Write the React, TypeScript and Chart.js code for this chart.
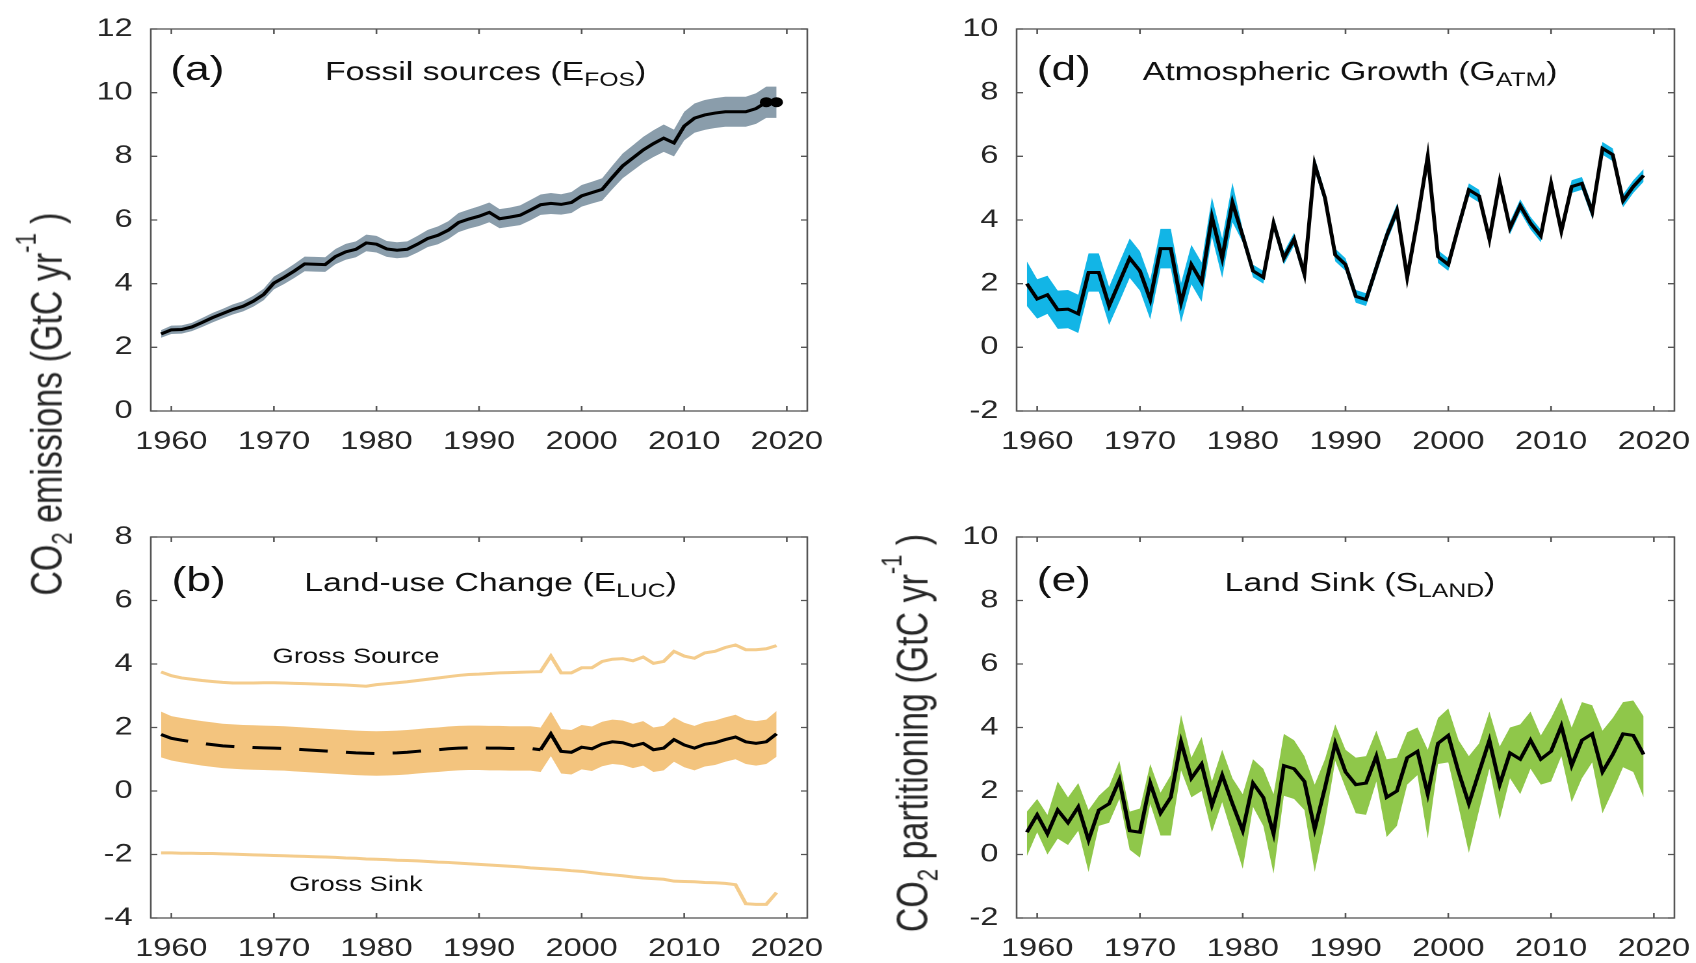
import React, { useEffect, useRef } from "react";
import { Chart, registerables } from "chart.js";

Chart.register(...registerables);

// ---------------- data ----------------
const YEARS = [
  1959, 1960, 1961, 1962, 1963, 1964, 1965, 1966, 1967, 1968,
  1969, 1970, 1971, 1972, 1973, 1974, 1975, 1976, 1977, 1978,
  1979, 1980, 1981, 1982, 1983, 1984, 1985, 1986, 1987, 1988,
  1989, 1990, 1991, 1992, 1993, 1994, 1995, 1996, 1997, 1998,
  1999, 2000, 2001, 2002, 2003, 2004, 2005, 2006, 2007, 2008,
  2009, 2010, 2011, 2012, 2013, 2014, 2015, 2016, 2017, 2018,
  2019,
];

const X_TICKS = [1960, 1970, 1980, 1990, 2000, 2010, 2020];
const Y_TICKS_A = [0, 2, 4, 6, 8, 10, 12];
const Y_TICKS_B = [-4, -2, 0, 2, 4, 6, 8];
const Y_TICKS_DE = [-2, 0, 2, 4, 6, 8, 10];

// (a) fossil emissions
const FOS = [
  2.42, 2.55, 2.56, 2.64, 2.78, 2.93, 3.06, 3.19, 3.29, 3.45,
  3.66, 4.02, 4.2, 4.4, 4.62, 4.61, 4.6, 4.85, 5.0, 5.08,
  5.28, 5.24, 5.09, 5.05, 5.08, 5.24, 5.42, 5.52, 5.68, 5.92,
  6.03, 6.12, 6.24, 6.04, 6.09, 6.15, 6.31, 6.48, 6.52, 6.49,
  6.55, 6.76, 6.86, 6.96, 7.34, 7.7, 7.95, 8.2, 8.4, 8.57,
  8.42, 8.95, 9.2, 9.3, 9.36, 9.4, 9.4, 9.4, 9.5, 9.7,
  9.7,
];
const FOS_UNC = [
  0.12, 0.13, 0.13, 0.13, 0.14, 0.15, 0.15, 0.16, 0.16, 0.17,
  0.18, 0.2, 0.21, 0.22, 0.23, 0.23, 0.23, 0.24, 0.25, 0.25,
  0.26, 0.26, 0.25, 0.25, 0.25, 0.26, 0.27, 0.28, 0.28, 0.3,
  0.3, 0.31, 0.31, 0.3, 0.3, 0.31, 0.32, 0.32, 0.33, 0.32,
  0.33, 0.34, 0.34, 0.35, 0.37, 0.39, 0.4, 0.41, 0.42, 0.43,
  0.42, 0.45, 0.46, 0.47, 0.47, 0.47, 0.47, 0.47, 0.48, 0.49,
  0.49,
];
const FOS_DOT_YEARS = [2018, 2019];
const FOS_DOT_VALUES = [9.7, 9.7];

// (b) land-use change
const LUC = [
  1.78, 1.66, 1.6, 1.55, 1.5, 1.46, 1.42, 1.4, 1.38, 1.37,
  1.36, 1.35, 1.34, 1.32, 1.3, 1.28, 1.26, 1.24, 1.22, 1.2,
  1.19, 1.18, 1.19, 1.2, 1.22, 1.25, 1.28, 1.3, 1.33, 1.35,
  1.36, 1.36, 1.35, 1.35, 1.34, 1.34, 1.34, 1.3, 1.8, 1.25,
  1.22, 1.38, 1.33, 1.48, 1.55, 1.52, 1.42, 1.5, 1.3, 1.35,
  1.62, 1.45, 1.35, 1.47, 1.52, 1.62, 1.7, 1.55, 1.5, 1.55,
  1.8,
];
const LUC_UNC = [
  0.72, 0.7, 0.7, 0.7, 0.7, 0.7, 0.7, 0.7, 0.7, 0.7,
  0.7, 0.7, 0.7, 0.7, 0.7, 0.7, 0.7, 0.7, 0.7, 0.7,
  0.7, 0.7, 0.7, 0.7, 0.7, 0.7, 0.7, 0.7, 0.7, 0.7,
  0.7, 0.7, 0.7, 0.7, 0.7, 0.7, 0.7, 0.7, 0.7, 0.7,
  0.7, 0.7, 0.7, 0.7, 0.7, 0.7, 0.7, 0.7, 0.7, 0.7,
  0.7, 0.7, 0.7, 0.7, 0.7, 0.7, 0.7, 0.7, 0.7, 0.7,
  0.72,
];
const LUC_DASHED_UNTIL = 1996;
const GROSS_SOURCE = [
  3.75, 3.63, 3.56, 3.52, 3.48, 3.45, 3.42, 3.4, 3.4, 3.4,
  3.41, 3.41, 3.4, 3.39, 3.38, 3.37, 3.36, 3.35, 3.34, 3.32,
  3.3, 3.35, 3.38, 3.41, 3.44, 3.48, 3.52, 3.56, 3.6, 3.64,
  3.67, 3.68, 3.7, 3.72, 3.73, 3.74, 3.75, 3.76, 4.25, 3.72,
  3.72, 3.88, 3.88, 4.08, 4.15, 4.17, 4.1, 4.22, 4.02, 4.08,
  4.4, 4.25, 4.18, 4.35, 4.4, 4.52, 4.6, 4.45, 4.45, 4.48,
  4.58,
];
const GROSS_SINK = [
  -1.95, -1.95, -1.96, -1.96, -1.97, -1.97, -1.98, -1.99, -2.0, -2.01,
  -2.02, -2.03, -2.04, -2.05, -2.06, -2.07, -2.08, -2.09, -2.11, -2.12,
  -2.14, -2.15, -2.16, -2.18, -2.19, -2.2, -2.22, -2.24, -2.25, -2.27,
  -2.29, -2.31, -2.33, -2.35, -2.37, -2.39, -2.42, -2.44, -2.46, -2.48,
  -2.51, -2.53, -2.57, -2.61, -2.64, -2.67, -2.71, -2.74, -2.76, -2.78,
  -2.84, -2.85, -2.86, -2.88, -2.89, -2.91, -2.95, -3.55, -3.57, -3.57,
  -3.2,
];

// (d) atmospheric growth
const GATM = [
  2.0, 1.52, 1.65, 1.18, 1.2, 1.05, 2.35, 2.35, 1.3, 2.05,
  2.8, 2.4, 1.5, 3.1, 3.1, 1.4, 2.6, 2.05, 4.1, 2.8,
  4.55, 3.5, 2.4, 2.2, 3.9, 2.8, 3.4, 2.3, 5.75, 4.7,
  2.9, 2.6, 1.6, 1.5, 2.5, 3.5, 4.3, 2.2, 4.0, 6.0,
  2.85, 2.6, 3.8, 4.95, 4.75, 3.4, 5.2, 3.75, 4.45, 3.9,
  3.5, 5.15, 3.65, 5.05, 5.15, 4.25, 6.25, 6.05, 4.6, 5.05,
  5.4,
];
const GATM_UNC = [
  0.7, 0.62, 0.6, 0.6, 0.6, 0.6, 0.6, 0.6, 0.6, 0.62,
  0.62, 0.62, 0.62, 0.62, 0.62, 0.62, 0.62, 0.62, 0.62, 0.62,
  0.62, 0.2, 0.2, 0.2, 0.2, 0.2, 0.2, 0.2, 0.2, 0.2,
  0.2, 0.2, 0.2, 0.2, 0.2, 0.2, 0.2, 0.2, 0.2, 0.2,
  0.2, 0.2, 0.2, 0.2, 0.2, 0.2, 0.2, 0.2, 0.2, 0.2,
  0.2, 0.2, 0.2, 0.2, 0.2, 0.2, 0.2, 0.2, 0.2, 0.2,
  0.2,
];

// (e) land sink
const SLAND = [
  0.7, 1.25, 0.65, 1.4, 1.0, 1.5, 0.45, 1.4, 1.6, 2.35,
  0.75, 0.7, 2.25, 1.3, 1.8, 3.55, 2.4, 2.85, 1.55, 2.5,
  1.6, 0.75, 2.25, 1.8, 0.65, 2.8, 2.7, 2.3, 0.8, 2.1,
  3.5, 2.6, 2.2, 2.25, 3.1, 1.8, 2.0, 3.05, 3.25, 1.9,
  3.5, 3.75, 2.6, 1.6, 2.6, 3.6, 2.2, 3.2, 3.0, 3.6,
  3.0, 3.25, 4.05, 2.8, 3.6, 3.8, 2.6, 3.15, 3.8, 3.75,
  3.15,
];
const SLAND_HIGH = [
  1.35, 1.75, 1.25, 2.3, 1.8, 2.25, 1.4, 1.85, 2.15, 2.95,
  1.35, 1.45, 2.85, 1.95, 2.5, 4.4, 3.05, 3.7, 2.3, 3.3,
  2.4, 1.9, 3.0, 2.7, 1.9, 3.8, 3.6, 3.1, 2.2, 3.0,
  4.1, 3.3, 3.05, 3.1, 3.9, 3.0, 3.05, 3.85, 4.0, 3.3,
  4.3, 4.6, 3.6, 3.1, 3.5, 4.5, 3.4, 4.0, 4.1, 4.5,
  3.75, 4.3, 4.95, 4.0, 4.8, 4.7, 3.9, 4.3, 4.8, 4.85,
  4.35,
];
const SLAND_LOW = [
  -0.05, 0.7, 0.0, 0.5, 0.3, 0.75, -0.55, 0.9, 1.0, 1.75,
  0.15, -0.1, 1.6, 0.6, 0.6, 2.65, 1.8, 2.0, 0.7, 1.65,
  0.6, -0.45, 1.5, 0.9, -0.6, 1.85, 1.75, 1.4, -0.55, 1.0,
  2.95, 2.1, 1.3, 1.25, 2.3, 0.55, 0.9, 2.2, 2.5, 0.5,
  2.85, 2.9, 1.5, 0.05, 1.4, 2.7, 1.1, 2.4, 1.9, 2.7,
  2.2, 2.3, 3.1, 1.65, 2.4, 2.9, 1.3, 2.0, 2.75, 2.6,
  1.8,
];

// ---------------- layout / style ----------------
const S = 1.3; // the reference is stretched horizontally
const PAGE_W = 1696;
const PAGE_H = 963;
const FONT = "'Liberation Sans', Arial, Helvetica, sans-serif";
const TICK_COLOR = "#262626";
const TEXT_COLOR = "#111111";
const FRAME_COLOR = "#555555";
const PAD_L = 100;
const PAD_T = 18;
const PAD_R = 30;
const PAD_B = 60;

const COL_LEFT = { left: 115.9, right: 621.3 };
const COL_RIGHT = { left: 781.5, right: 1287.9 };
const ROW_TOP = { top: 18.3, bottom: 411 };
const ROW_BOT = { top: 526, bottom: 918 };

type Part = { t: string; size: number; dy?: number };
type Note = { text: string; x: number; y: number; size: number };

type Spec = {
  area: { left: number; right: number; top: number; bottom: number };
  yMin: number;
  yMax: number;
  yTicks: number[];
  label: string;
  labelDx: number;
  titleDx: number;
  titleDy: number;
  title: Part[];
  notes?: Note[];
  datasets: any[];
};

const pts = (ys: number[]) => YEARS.map((x, i) => ({ x, y: ys[i] }));
const ptsLow = (ys: number[], u: number[]) => YEARS.map((x, i) => ({ x, y: ys[i] - u[i] }));
const ptsHigh = (ys: number[], u: number[]) => YEARS.map((x, i) => ({ x, y: ys[i] + u[i] }));

const mainLine = (data: any[], extra: any = {}) => ({
  data,
  borderColor: "#000000",
  borderWidth: 3,
  pointRadius: 0,
  fill: false,
  tension: 0,
  ...extra,
});
const bandLow = (data: any[]) => ({
  data,
  borderColor: "rgba(0,0,0,0)",
  borderWidth: 0,
  pointRadius: 0,
  fill: false,
});
const bandHigh = (data: any[], color: string) => ({
  data,
  borderColor: "rgba(0,0,0,0)",
  borderWidth: 0,
  pointRadius: 0,
  backgroundColor: color,
  fill: "-1",
});

const BAND_A = "#8a9dab";
const BAND_B = "#f3c47e";
const GROSS_COLOR = "#f4cc8c";
const BAND_D = "#12b5e6";
const BAND_E = "#8fc74a";

function drawRich(ctx: CanvasRenderingContext2D, x: number, y: number, parts: Part[]) {
  let cx = x;
  for (const p of parts) {
    ctx.font = `${p.size}px ${FONT}`;
    ctx.fillText(p.t, cx, y + (p.dy || 0));
    cx += ctx.measureText(p.t).width;
  }
}

function framePlugin(spec: Spec) {
  return {
    id: "frameAndTitles",
    afterDraw(chart: any) {
      const { ctx, chartArea: a, scales } = chart;
      const xs = scales.x;
      const ys = scales.y;
      ctx.save();
      ctx.strokeStyle = FRAME_COLOR;
      ctx.lineWidth = 1.3;
      ctx.beginPath();
      for (const t of xs.ticks) {
        const px = xs.getPixelForValue(t.value);
        ctx.moveTo(px, a.bottom);
        ctx.lineTo(px, a.bottom - 5);
        ctx.moveTo(px, a.top);
        ctx.lineTo(px, a.top + 5);
      }
      for (const t of ys.ticks) {
        const py = ys.getPixelForValue(t.value);
        ctx.moveTo(a.left, py);
        ctx.lineTo(a.left + 5, py);
        ctx.moveTo(a.right, py);
        ctx.lineTo(a.right - 5, py);
      }
      ctx.stroke();
      ctx.strokeRect(a.left, a.top, a.right - a.left, a.bottom - a.top);

      ctx.fillStyle = TEXT_COLOR;
      ctx.textBaseline = "alphabetic";
      ctx.textAlign = "left";
      drawRich(ctx, a.left + spec.labelDx, a.top + spec.titleDy, [{ t: spec.label, size: 34 }]);
      drawRich(ctx, a.left + spec.titleDx, a.top + spec.titleDy, spec.title);

      if (spec.notes) {
        ctx.textAlign = "center";
        ctx.textBaseline = "middle";
        for (const n of spec.notes) {
          ctx.font = `${n.size}px ${FONT}`;
          ctx.fillText(n.text, xs.getPixelForValue(n.x), ys.getPixelForValue(n.y));
        }
      }
      ctx.restore();
    },
  };
}

function Panel({ spec }: { spec: Spec }) {
  const ref = useRef<HTMLCanvasElement>(null);
  const w = Math.round(spec.area.right - spec.area.left + PAD_L + PAD_R);
  const h = Math.round(spec.area.bottom - spec.area.top + PAD_T + PAD_B);

  useEffect(() => {
    if (!ref.current) return;
    const tickFont = { family: FONT, size: 25 };
    const chart = new Chart(ref.current, {
      type: "line",
      data: { datasets: spec.datasets },
      options: {
        responsive: false,
        maintainAspectRatio: false,
        animation: false,
        devicePixelRatio: 2,
        events: [],
        layout: { padding: { top: PAD_T, right: PAD_R, left: 0, bottom: 0 } },
        plugins: {
          legend: { display: false },
          tooltip: { enabled: false },
          title: { display: false },
        },
        scales: {
          x: {
            type: "linear",
            min: 1958,
            max: 2022,
            afterBuildTicks: (s: any) => {
              s.ticks = X_TICKS.map((v) => ({ value: v }));
            },
            afterFit: (s: any) => {
              s.height = PAD_B;
            },
            grid: { display: false, drawTicks: false },
            border: { display: false },
            ticks: {
              padding: 16,
              font: tickFont,
              color: TICK_COLOR,
              autoSkip: false,
              maxRotation: 0,
              callback: (v: any) => String(v),
            },
          },
          y: {
            type: "linear",
            min: spec.yMin,
            max: spec.yMax,
            afterBuildTicks: (s: any) => {
              s.ticks = spec.yTicks.map((v) => ({ value: v }));
            },
            afterFit: (s: any) => {
              s.width = PAD_L;
            },
            grid: { display: false, drawTicks: false },
            border: { display: false },
            ticks: {
              padding: 14,
              font: tickFont,
              color: TICK_COLOR,
              autoSkip: false,
              callback: (v: any) => String(v),
            },
          },
        },
      } as any,
      plugins: [framePlugin(spec)],
    });
    return () => chart.destroy();
  }, []);

  return (
    <canvas
      ref={ref}
      width={w}
      height={h}
      style={{
        position: "absolute",
        left: spec.area.left - PAD_L,
        top: spec.area.top - PAD_T,
        width: w,
        height: h,
      }}
    />
  );
}

const SPEC_A: Spec = {
  area: { ...COL_LEFT, ...ROW_TOP },
  yMin: 0,
  yMax: 12,
  yTicks: Y_TICKS_A,
  label: "(a)",
  labelDx: 15,
  titleDx: 134,
  titleDy: 51,
  title: [
    { t: "Fossil sources (E", size: 26 },
    { t: "FOS", size: 19, dy: 6 },
    { t: ")", size: 26 },
  ],
  datasets: [
    mainLine(pts(FOS)),
    {
      data: FOS_DOT_YEARS.map((x, i) => ({ x, y: FOS_DOT_VALUES[i] })),
      showLine: false,
      pointRadius: 4.5,
      pointBackgroundColor: "#000",
      pointBorderColor: "#000",
      borderColor: "#000",
    },
    bandLow(ptsLow(FOS, FOS_UNC)),
    bandHigh(ptsHigh(FOS, FOS_UNC), BAND_A),
  ],
};

const SPEC_B: Spec = {
  area: { ...COL_LEFT, ...ROW_BOT },
  yMin: -4,
  yMax: 8,
  yTicks: Y_TICKS_B,
  label: "(b)",
  labelDx: 16,
  titleDx: 118,
  titleDy: 54,
  title: [
    { t: "Land-use Change (E", size: 26 },
    { t: "LUC", size: 19, dy: 6 },
    { t: ")", size: 26 },
  ],
  notes: [
    { text: "Gross Source", x: 1978, y: 4.22, size: 21 },
    { text: "Gross Sink", x: 1978, y: -2.96, size: 21 },
  ],
  datasets: [
    mainLine(pts(LUC), {
      segment: {
        borderDash: (c: any) => (c.p1.parsed.x <= LUC_DASHED_UNTIL ? [22, 14] : undefined),
      },
    }),
    { data: pts(GROSS_SOURCE), borderColor: GROSS_COLOR, borderWidth: 3, pointRadius: 0, fill: false },
    { data: pts(GROSS_SINK), borderColor: GROSS_COLOR, borderWidth: 3, pointRadius: 0, fill: false },
    bandLow(ptsLow(LUC, LUC_UNC)),
    bandHigh(ptsHigh(LUC, LUC_UNC), BAND_B),
  ],
};

const SPEC_D: Spec = {
  area: { ...COL_RIGHT, ...ROW_TOP },
  yMin: -2,
  yMax: 10,
  yTicks: Y_TICKS_DE,
  label: "(d)",
  labelDx: 15.5,
  titleDx: 97,
  titleDy: 51,
  title: [
    { t: "Atmospheric Growth (G", size: 26 },
    { t: "ATM", size: 19, dy: 6 },
    { t: ")", size: 26 },
  ],
  datasets: [
    mainLine(pts(GATM)),
    bandLow(ptsLow(GATM, GATM_UNC)),
    bandHigh(ptsHigh(GATM, GATM_UNC), BAND_D),
  ],
};

const SPEC_E: Spec = {
  area: { ...COL_RIGHT, ...ROW_BOT },
  yMin: -2,
  yMax: 10,
  yTicks: Y_TICKS_DE,
  label: "(e)",
  labelDx: 15.5,
  titleDx: 160,
  titleDy: 54,
  title: [
    { t: "Land Sink (S", size: 26 },
    { t: "LAND", size: 19, dy: 6 },
    { t: ")", size: 26 },
  ],
  datasets: [
    mainLine(pts(SLAND)),
    bandLow(pts(SLAND_LOW)),
    bandHigh(pts(SLAND_HIGH), BAND_E),
  ],
};

function YLabel({ cx, cy, word }: { cx: number; cy: number; word: string }) {
  return (
    <div
      style={{
        position: "absolute",
        left: cx,
        top: cy,
        transform: "translate(-50%, -50%) rotate(-90deg)",
        whiteSpace: "nowrap",
        fontFamily: FONT,
        fontSize: 34,
        lineHeight: "34px",
        color: TICK_COLOR,
      }}
    >
      CO
      <span style={{ fontSize: 22, position: "relative", top: 8 }}>2</span>
      {` ${word} (GtC yr`}
      <span style={{ fontSize: 22, position: "relative", top: -20 }}>-1</span>
      {" )"}
    </div>
  );
}

export default function App() {
  return (
    <div
      style={{
        position: "absolute",
        left: 0,
        top: 0,
        width: PAGE_W,
        height: PAGE_H,
        overflow: "hidden",
        background: "#ffffff",
      }}
    >
      <div
        style={{
          position: "absolute",
          left: 0,
          top: 0,
          width: PAGE_W / S,
          height: PAGE_H,
          transform: `scaleX(${S})`,
          transformOrigin: "0 0",
        }}
      >
        <Panel spec={SPEC_A} />
        <Panel spec={SPEC_B} />
        <Panel spec={SPEC_D} />
        <Panel spec={SPEC_E} />
        <YLabel cx={37.7} cy={404} word="emissions" />
        <YLabel cx={703.8} cy={733} word="partitioning" />
      </div>
    </div>
  );
}
